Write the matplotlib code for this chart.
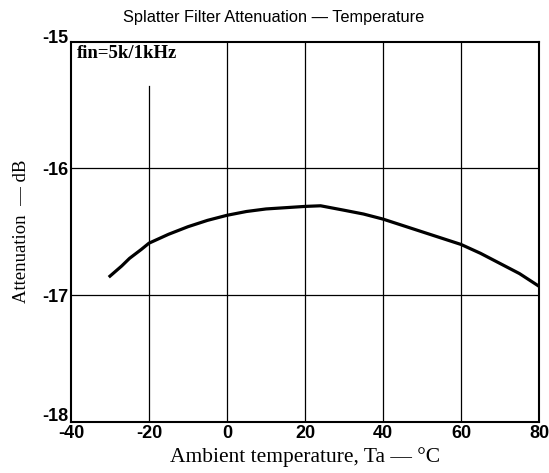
import matplotlib
matplotlib.use("Agg")
import matplotlib.pyplot as plt
import matplotlib.transforms as mtransforms

plt.rcParams["axes.unicode_minus"] = False
plt.rcParams["font.family"] = ["Liberation Sans", "DejaVu Sans"]

# values
temp_c = [-30, -27, -25, -22, -20, -15, -10, -5, 0, 5, 10, 15, 20, 24, 30, 35, 40, 45, 50, 55, 60, 65, 70, 75, 80]
atten_db = [-16.85, -16.77, -16.71, -16.64, -16.59, -16.52, -16.46, -16.41, -16.37, -16.34, -16.32, -16.31, -16.30,
            -16.295, -16.33, -16.36, -16.40, -16.45, -16.50, -16.55, -16.60, -16.67, -16.75, -16.83, -16.93]

x_ticks = [-40, -20, 0, 20, 40, 60, 80]
y_ticks = [-18, -17, -16, -15]

fig = plt.figure(figsize=(5.49, 4.73), dpi=100)
ax = fig.add_axes([0.1293, 0.108, 0.8525, 0.804])

ax.plot(temp_c, atten_db, color="black", linewidth=2.3, solid_joinstyle="round")

# grid: the -20 line stops under the label
for xv in [0, 20, 40, 60]:
    ax.axvline(xv, color="black", linewidth=0.9)
ax.plot([-20, -20], [-18, -15.35], color="black", linewidth=0.9)
for yv in [-16, -17]:
    ax.axhline(yv, color="black", linewidth=0.9)

ax.set_xlim(-40, 80)
ax.set_ylim(-18, -15)
ax.set_xticks(x_ticks)
ax.set_yticks(y_ticks)
ax.tick_params(length=0, labelsize=13, pad=2)
for lbl in ax.get_xticklabels() + ax.get_yticklabels():
    lbl.set_fontweight("bold")
# the end labels sit a little off the corner, as in the reference
ylbls = ax.get_yticklabels()
ylbls[0].set_transform(ylbls[0].get_transform() + mtransforms.ScaledTranslation(0, 5 / 72, fig.dpi_scale_trans))
ylbls[-1].set_transform(ylbls[-1].get_transform() + mtransforms.ScaledTranslation(0, 4 / 72, fig.dpi_scale_trans))
for s in ax.spines.values():
    s.set_linewidth(1.5)

ax.text(-38.5, -15.13, "fin=5k/1kHz", family="Liberation Serif", fontsize=13.5, fontweight="bold")
fig.text(0.499, 0.962, "Splatter Filter Attenuation \u2014 Temperature", fontsize=11.8, ha="center", va="center")
ax.set_xlabel("Ambient temperature, Ta \u2014 \u00b0C", family="Liberation Serif", fontsize=15.5, labelpad=4)
ax.set_ylabel("Attenuation  \u2014 dB", family="Liberation Serif", fontsize=13.5, labelpad=9)

fig.savefig("out.png", dpi=100)
